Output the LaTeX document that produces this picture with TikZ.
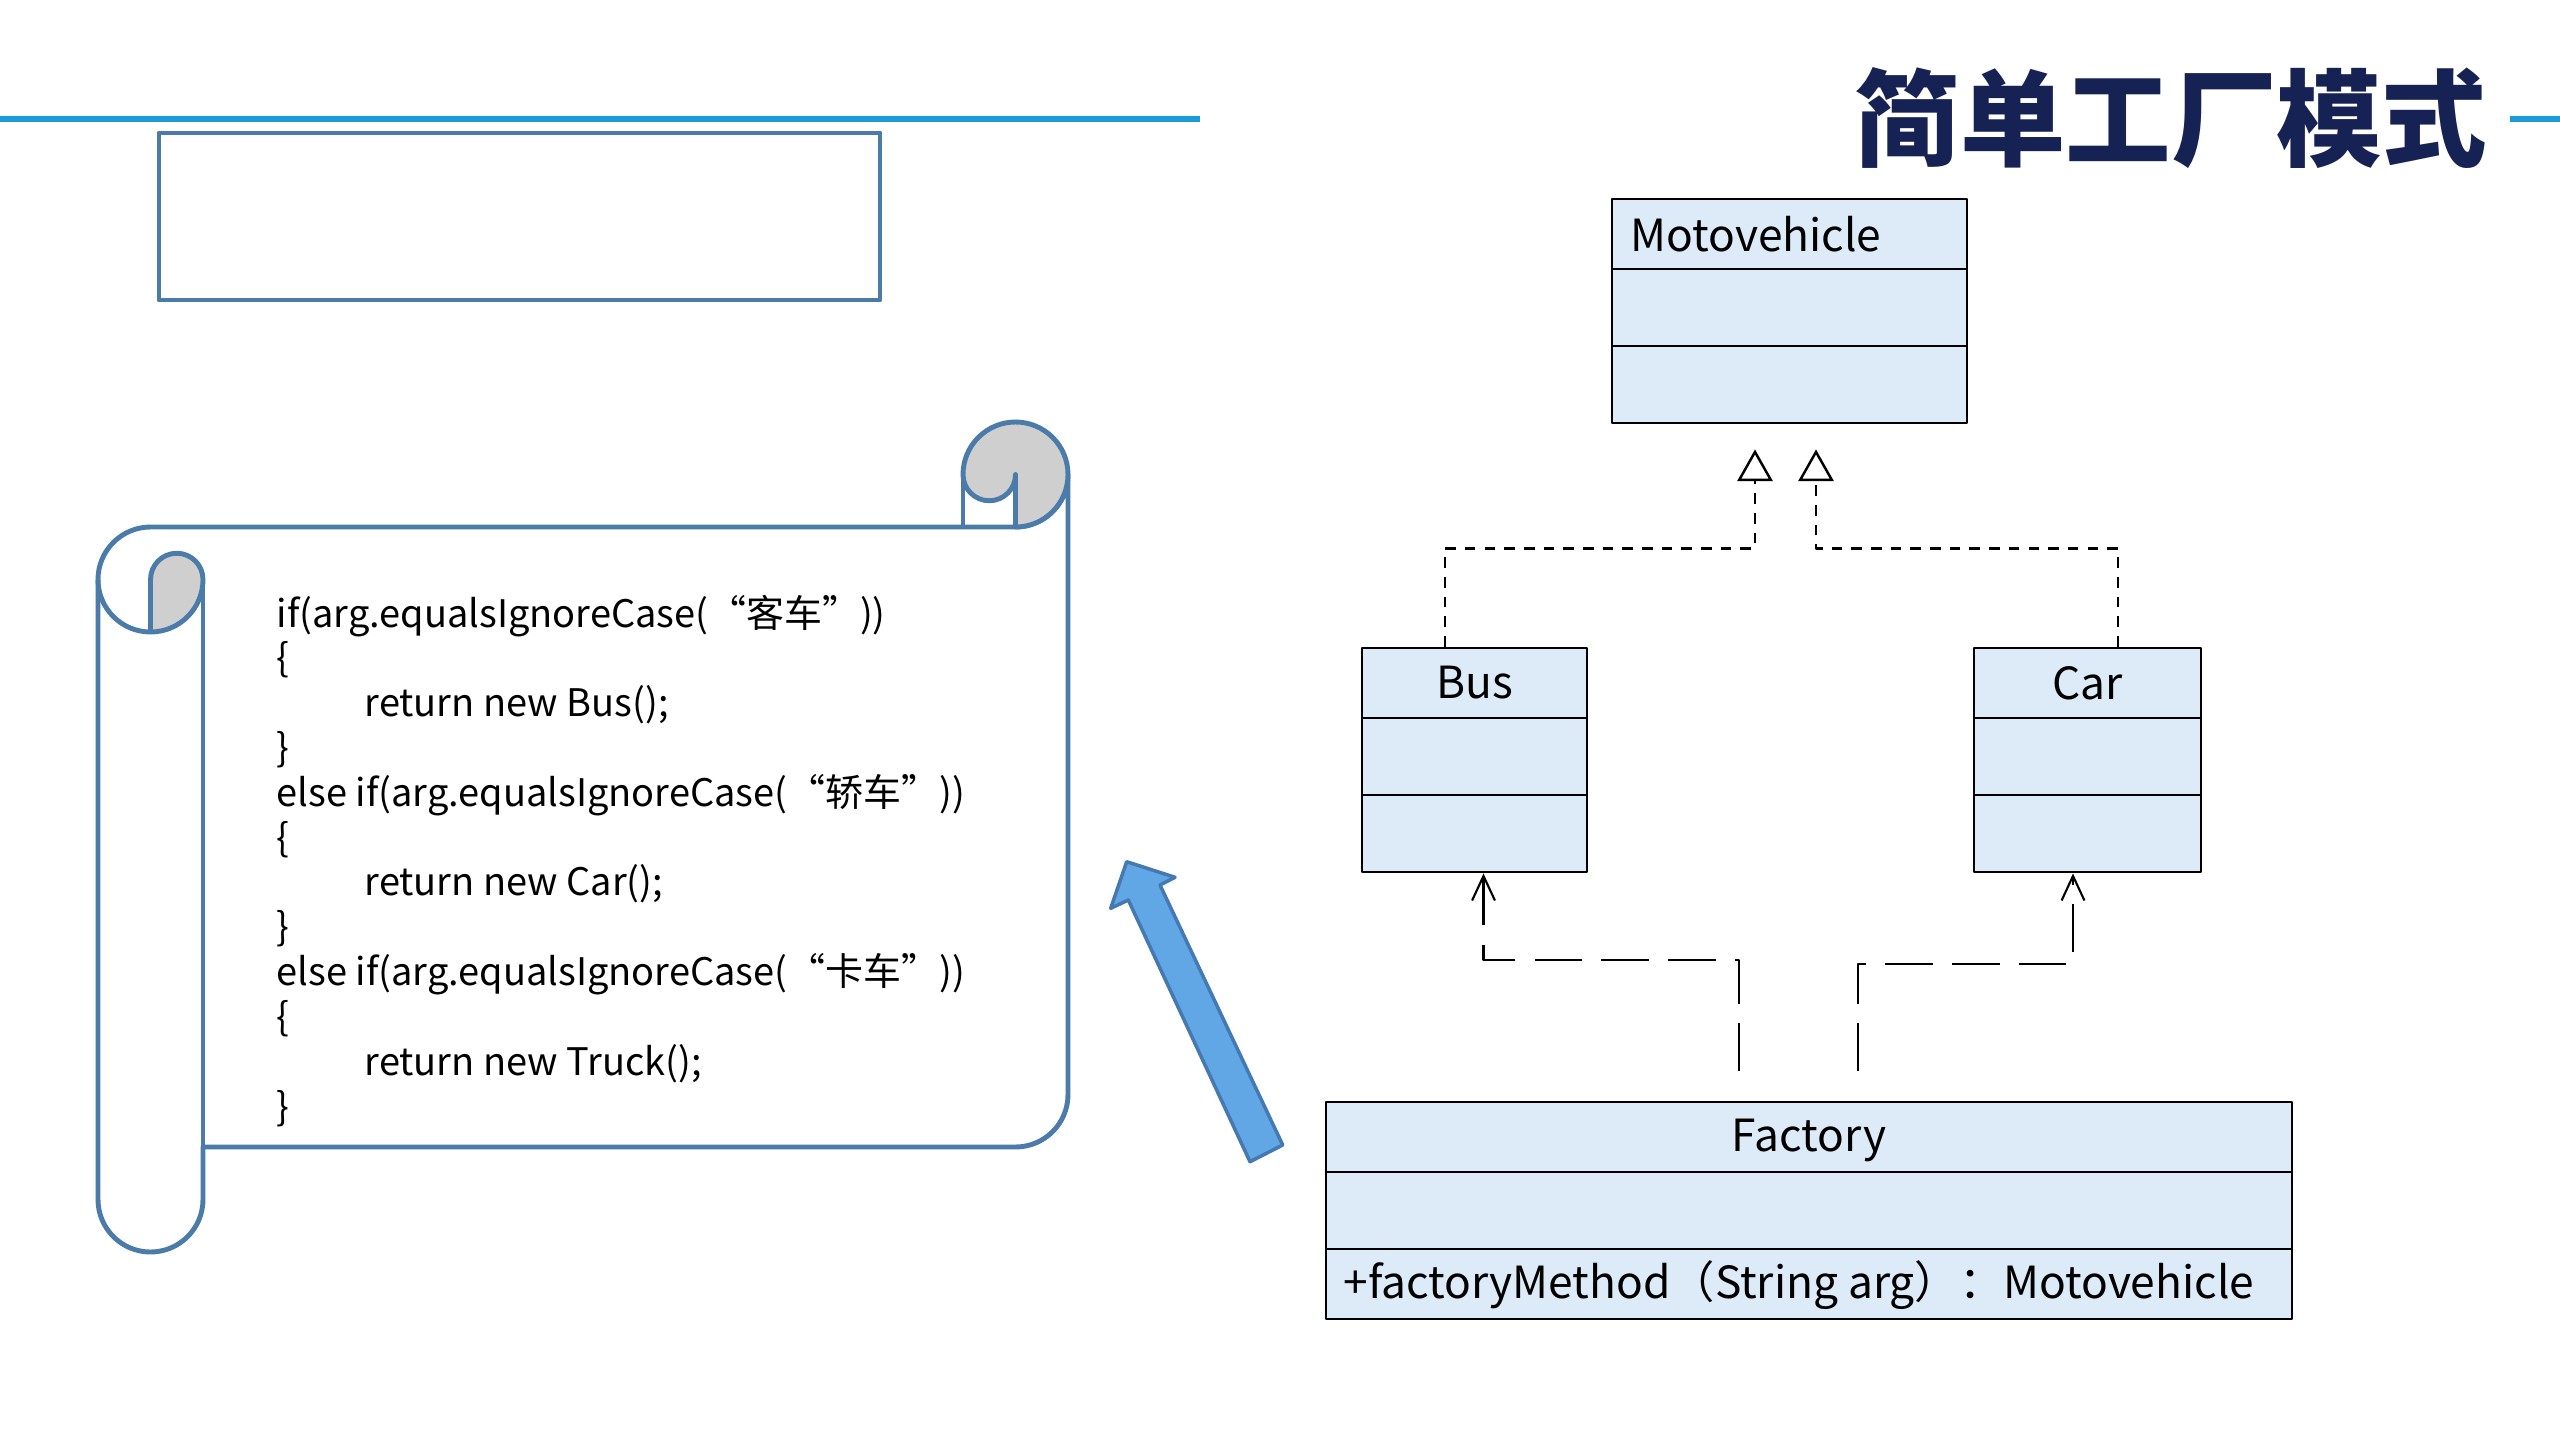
\documentclass[tikz,border=0pt]{standalone}
\usepackage{fontspec}
\setmainfont{Noto Sans CJK SC}
\usetikzlibrary{arrows.meta,calc}
\definecolor{topblue}{HTML}{1A9AD7}
\definecolor{steel}{HTML}{4A7BA9}
\definecolor{curlgray}{HTML}{CFCFCF}
\definecolor{umlfill}{HTML}{DDEBF8}
\definecolor{arrowfill}{HTML}{62A7E5}
\definecolor{arrowdraw}{HTML}{4479B2}
\definecolor{navy}{HTML}{162254}
\begin{document}
\begin{tikzpicture}[line join = round,
  scroll/.style={draw=steel, line width=1.4pt},
  cls/.style={draw=black, fill=umlfill, line width=0.8pt, inner sep=0pt},
  clsname/.style={font=\fontsize{12.6}{15}\selectfont},
  gen/.style={line width=0.7pt, dash pattern=on 3pt off 2.6pt, -{Triangle[open, length=9pt, width=10pt]}},
  dep/.style={line width=0.6pt, dash pattern=on 13.5pt off 5.5pt, -{Straight Barb[length=7pt, width=6.5pt]}},
  code/.style={align=left, inner sep=0pt, font=\fontsize{10.8}{12.75}\selectfont}]
%Nền và khung
\fill[white] (0,0) rectangle (25.6,-14.4);
\useasboundingbox (0,0) rectangle (25.6,-14.4);
\draw[topblue, line width=1.6pt] (0,-1.19)--(12.00,-1.19) (25.10,-1.19)--(25.6,-1.19);
\node[text=navy, font=\fontsize{30}{34}\selectfont\bfseries] (title) at (21.71,-1.18) {简单工厂模式};
\draw[steel, line width=1.4pt] (1.59,-1.33) rectangle (8.80,-3.00);
%Cuộn giấy
\filldraw[scroll, fill=white] (0.98,-5.795) arc[start angle=180, end angle=90, radius=0.525] -- (10.155,-5.27)
  arc[start angle=-90, end angle=0, radius=0.525] -- (10.68,-10.945)
  arc[start angle=0, end angle=-90, radius=0.525] -- (2.03,-11.47) -- (2.03,-11.995)
  arc[start angle=0, end angle=-180, radius=0.525] -- cycle;
\filldraw[scroll, fill=curlgray] (9.63,-4.745) arc[start angle=180, end angle=-90, radius=0.525] -- (10.155,-4.745)
  arc[start angle=0, end angle=-180, radius=0.2625] -- cycle;
\draw[scroll] (9.63,-4.745) -- (9.63,-5.27);
\filldraw[scroll, fill=curlgray] (1.505,-5.795) arc[start angle=180, end angle=0, radius=0.2625]
  arc[start angle=0, end angle=-90, radius=0.525] -- cycle;
\draw[scroll] (0.98,-5.795) arc[start angle=180, end angle=270, radius=0.525];
\draw[scroll] (2.03,-5.795) -- (2.03,-11.47);
\node[code, anchor=base west] (src) at (2.76,-11.20) {if(arg.equalsIgnoreCase(“客车”))\\
\{\\
\hspace*{0.88cm}return new Bus();\\
\}\\
else if(arg.equalsIgnoreCase(“轿车”))\\
\{\\
\hspace*{0.88cm}return new Car();\\
\}\\
else if(arg.equalsIgnoreCase(“卡车”))\\
\{\\
\hspace*{0.88cm}return new Truck();\\
\}};
%Mũi tên xanh
\filldraw[fill=arrowfill, draw=arrowdraw, line width=1pt] (11.267,-8.617) -- (11.75,-8.773) -- (11.60,-8.85)
  -- (12.827,-11.45) -- (12.50,-11.617) -- (11.283,-9.00) -- (11.107,-9.083) -- cycle;
%Các lớp UML
\node[cls, minimum width=3.55cm, minimum height=2.24cm] (moto) at (17.895,-3.11) {};
\draw[line width=0.8pt] (16.12,-2.69)--(19.67,-2.69) (16.12,-3.46)--(19.67,-3.46);
\node[clsname, anchor=west] (motoname) at (16.18,-2.34) {Motovehicle};
\node[cls, minimum width=2.25cm, minimum height=2.24cm] (bus) at (14.745,-7.60) {};
\draw[line width=0.8pt] (13.62,-7.18)--(15.87,-7.18) (13.62,-7.95)--(15.87,-7.95);
\node[clsname] (busname) at (14.745,-6.83) {Bus};
\node[cls, minimum width=2.27cm, minimum height=2.24cm] (car) at (20.875,-7.60) {};
\draw[line width=0.8pt] (19.74,-7.18)--(22.01,-7.18) (19.74,-7.95)--(22.01,-7.95);
\node[clsname] (carname) at (20.875,-6.83) {Car};
\node[cls, minimum width=9.66cm, minimum height=2.17cm] (fac) at (18.09,-12.105) {};
\draw[line width=0.8pt] (13.26,-11.72)--(22.92,-11.72) (13.26,-12.49)--(22.92,-12.49);
\node[clsname] (facname) at (18.09,-11.40) {Factory};
\node[clsname, anchor=west] (facop) at (13.31,-12.85) {+factoryMethod（String arg）：Motovehicle};
%Quan hệ kế thừa
\draw[gen] ([xshift=-2.95mm]bus.north) |- ([shift={(-3.45mm,-12.4mm)}]moto.south) -- ([shift={(-3.45mm,-2.5mm)}]moto.south);
\draw[gen] ([xshift=3.05mm]car.north) |- ([shift={(2.65mm,-12.4mm)}]moto.south) -- ([shift={(2.65mm,-2.5mm)}]moto.south);
%Quan hệ phụ thuộc
\draw[dep] ([shift={(-7mm,3mm)}]fac.north) |- ([shift={(0.9mm,-8.7mm)}]bus.south) -- ([xshift=0.9mm]bus.south);
\draw[dep] ([shift={(4.9mm,3mm)}]fac.north) |- ([shift={(-1.45mm,-9.1mm)}]car.south) -- ([xshift=-1.45mm]car.south);
\end{tikzpicture}
\end{document}
